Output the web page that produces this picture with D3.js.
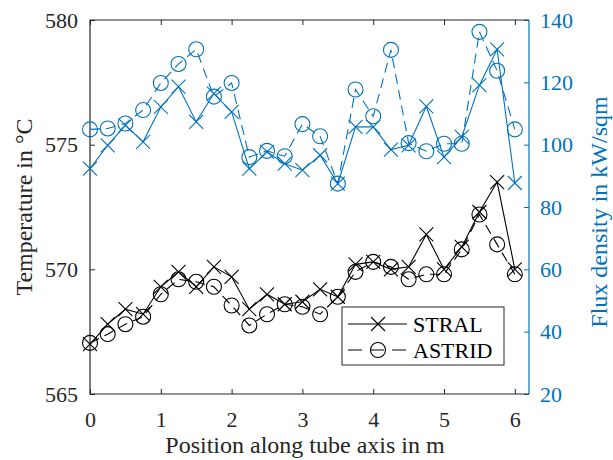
<!DOCTYPE html>
<html>
<head>
<meta charset="utf-8">
<script src="https://cdn.jsdelivr.net/npm/d3@7"></script>
<style>
  body { margin: 0; background: #fff; }
</style>
</head>
<body>
<div id="chart"></div>
<script>
// positions along the tube, m
let positions = [0, 0.25, 0.5, 0.75, 1, 1.25, 1.5, 1.75, 2, 2.25, 2.5, 2.75, 3,
                 3.25, 3.5, 3.75, 4, 4.25, 4.5, 4.75, 5, 5.25, 5.5, 5.75, 6];

// temperature, degC (left axis)
let temp_stral  = [567.0, 567.8, 568.4, 568.2, 569.3, 569.9, 569.3, 570.1, 569.7, 568.4,
                   569.0, 568.6, 568.7, 569.2, 568.9, 570.2, 570.3, 570.0, 570.1, 571.4,
                   570.0, 570.9, 572.3, 573.5, 570.0];
let temp_astrid = [567.05, 567.4, 567.8, 568.1, 569.0, 569.6, 569.5, 569.3, 568.55, 567.75,
                   568.2, 568.6, 568.5, 568.2, 568.9, 569.9, 570.3, 570.1, 569.6, 569.8,
                   569.8, 570.8, 572.2, 571.0, 569.8];

// flux density, kW/sqm (right axis)
let flux_stral  = [92.3, 99.8, 106.2, 100.9, 112.1, 118.6, 107.3, 116.4, 110.5, 92.3,
                   97.7, 93.9, 91.8, 96.6, 87.5, 105.7, 105.7, 98.4, 99.8, 112.3,
                   96.0, 102.5, 119.1, 130.6, 87.7];
let flux_astrid = [104.9, 105.2, 106.8, 111.1, 119.8, 125.9, 130.6, 115.4, 119.8, 96.0,
                   98.0, 96.3, 106.6, 102.7, 87.5, 117.7, 109.1, 130.4, 100.5, 97.9,
                   100.3, 100.3, 136.2, 123.7, 104.9];

let x_ticks = [0, 1, 2, 3, 4, 5, 6];
let temp_ticks = [565, 570, 575, 580];
let flux_ticks = [20, 40, 60, 80, 100, 120, 140];
let legend_names = ["STRAL", "ASTRID"];

let width = 613, height = 460;
let plot_x0 = 90, plot_x1 = 529;
let plot_y0 = 20, plot_y1 = 394;
let blue = "#0072BD";
let font_family = "Liberation Serif, Times New Roman, Times, serif";
let font_size = 22; // px
let label_size = 24; // px
let tick_len = 5;

let svg = d3.select("#chart").append("svg")
  .attr("width", width)
  .attr("height", height)
  .attr("font-family", font_family)
  .attr("xmlns", "http://www.w3.org/2000/svg");

let x = d3.scaleLinear().domain([0, 6.2]).range([plot_x0, plot_x1]);
let y_temp = d3.scaleLinear().domain([565, 580]).range([plot_y1, plot_y0]);
let y_flux = d3.scaleLinear().domain([20, 140]).range([plot_y1, plot_y0]);

// axes, ticks pointing inward
function style_axis(g, color) {
  g.attr("font-family", font_family);
  g.select(".domain").remove();
  g.selectAll(".tick line").attr("stroke", color).attr("stroke-width", 1);
  g.selectAll(".tick text")
    .attr("fill", color)
    .attr("font-family", font_family)
    .attr("font-size", font_size + "px");
}

svg.append("g")
  .attr("transform", "translate(0," + plot_y1 + ")")
  .call(d3.axisBottom(x).tickValues(x_ticks).tickFormat(d3.format("d"))
        .tickSizeInner(-tick_len).tickPadding(17))
  .call(g => style_axis(g, "#262626"));

svg.append("g")
  .attr("transform", "translate(0," + plot_y0 + ")")
  .call(d3.axisTop(x).tickValues(x_ticks).tickSizeInner(-tick_len).tickFormat(""))
  .call(g => style_axis(g, "#262626"));

svg.append("g")
  .attr("transform", "translate(" + plot_x0 + ",0)")
  .call(d3.axisLeft(y_temp).tickValues(temp_ticks).tickFormat(d3.format("d"))
        .tickSizeInner(-tick_len).tickPadding(12))
  .call(g => style_axis(g, "#262626"));

svg.append("g")
  .attr("transform", "translate(" + plot_x1 + ",0)")
  .call(d3.axisRight(y_flux).tickValues(flux_ticks).tickFormat(d3.format("d"))
        .tickSizeInner(-tick_len).tickPadding(11))
  .call(g => style_axis(g, blue));

// box
svg.append("path")
  .attr("d", `M${plot_x1},${plot_y0}H${plot_x0}V${plot_y1}H${plot_x1}`)
  .attr("fill", "none").attr("stroke", "#262626").attr("stroke-width", 1.2);
svg.append("line")
  .attr("x1", plot_x1).attr("x2", plot_x1).attr("y1", plot_y0).attr("y2", plot_y1)
  .attr("stroke", blue).attr("stroke-width", 1.2);

// series
let plot_g = svg.append("g");

function draw_series(values, yscale, color, dashed, marker) {
  let pts = positions.map((p, i) => [x(p), yscale(values[i])]);
  plot_g.append("path")
    .attr("d", d3.line()(pts))
    .attr("fill", "none")
    .attr("stroke", color)
    .attr("stroke-width", 1.1)
    .attr("stroke-dasharray", dashed ? "10,6" : null);
  draw_markers(plot_g, pts, color, marker);
}

function draw_markers(g, pts, color, marker) {
  let s = 7;
  if (marker === "x") {
    g.append("g").selectAll("path").data(pts).join("path")
      .attr("d", d => `M${d[0]-s},${d[1]-s}L${d[0]+s},${d[1]+s}M${d[0]-s},${d[1]+s}L${d[0]+s},${d[1]-s}`)
      .attr("stroke", color).attr("stroke-width", 1.1).attr("fill", "none");
  } else {
    g.append("g").selectAll("circle").data(pts).join("circle")
      .attr("cx", d => d[0]).attr("cy", d => d[1]).attr("r", 7.5)
      .attr("stroke", color).attr("stroke-width", 1.1).attr("fill", "none");
  }
}

draw_series(flux_stral, y_flux, blue, false, "x");
draw_series(flux_astrid, y_flux, blue, true, "o");
draw_series(temp_stral, y_temp, "#000", false, "x");
draw_series(temp_astrid, y_temp, "#000", true, "o");

// legend
let leg = svg.append("g");
leg.append("rect")
  .attr("x", 342).attr("y", 307).attr("width", 162).attr("height", 58)
  .attr("fill", "#fff").attr("stroke", "#262626").attr("stroke-width", 1);
legend_names.forEach((name, i) => {
  let ly = 324 + i * 26;
  leg.append("line")
    .attr("x1", 348).attr("x2", 407).attr("y1", ly).attr("y2", ly)
    .attr("stroke", "#000").attr("stroke-width", 1.1)
    .attr("stroke-dasharray", i === 1 ? "14,8" : null);
  draw_markers(leg, [[378, ly]], "#000", i === 0 ? "x" : "o");
  leg.append("text")
    .attr("x", 413).attr("y", ly)
    .attr("dy", "0.35em")
    .attr("font-size", font_size + "px")
    .attr("fill", "#000")
    .text(name);
});

// axis titles
svg.append("text")
  .attr("x", 305).attr("y", 453)
  .attr("text-anchor", "middle")
  .attr("font-size", label_size + "px")
  .attr("fill", "#262626")
  .text("Position along tube axis in m");

svg.append("text")
  .attr("transform", "translate(32," + 207 + ") rotate(-90)")
  .attr("text-anchor", "middle")
  .attr("font-size", label_size + "px")
  .attr("fill", "#262626")
  .text("Temperature in °C");

svg.append("text")
  .attr("transform", "translate(607," + 212 + ") rotate(-90)")
  .attr("text-anchor", "middle")
  .attr("font-size", label_size + "px")
  .attr("fill", blue)
  .text("Flux density in kW/sqm");
</script>
</body>
</html>
